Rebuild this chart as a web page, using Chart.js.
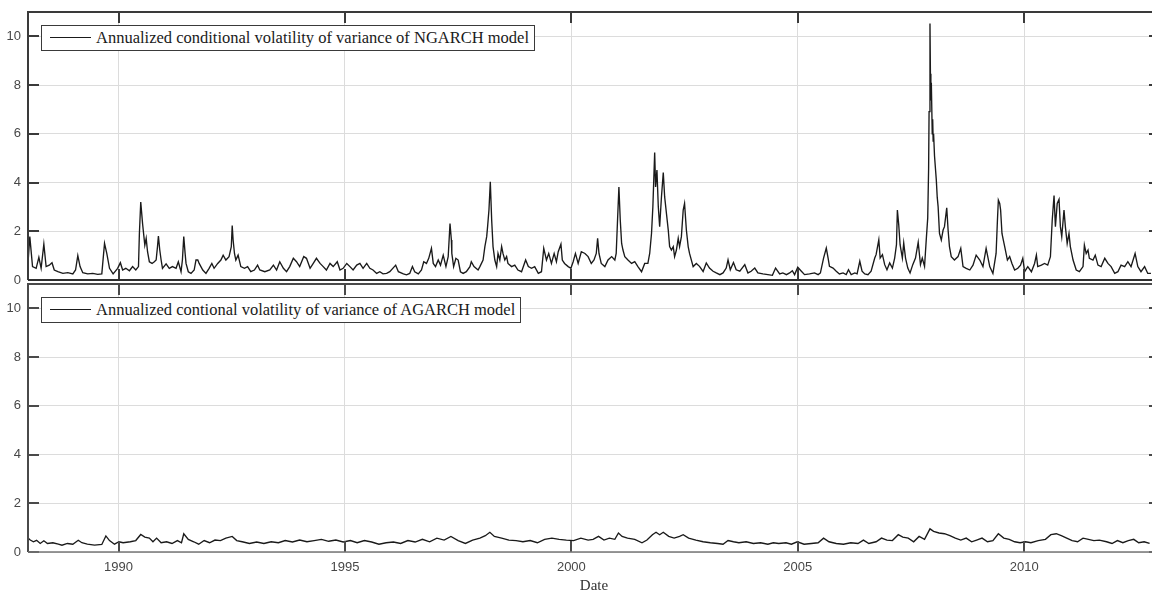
<!DOCTYPE html>
<html>
<head>
<meta charset="utf-8">
<title>Annualized conditional volatility: NGARCH vs AGARCH</title>
<script src="https://cdn.jsdelivr.net/npm/chart.js@4.4.1/dist/chart.umd.min.js"></script>
<style>
  html, body { margin: 0; padding: 0; background: #fff; overflow: hidden; }
  body { width: 1152px; height: 594px; position: relative; }
  canvas { position: absolute; left: 0; }
  #topChart { top: 0; }
  #bottomChart { top: 270px; }
  .legend {
    position: absolute; left: 41px; height: 26px; box-sizing: border-box;
    border: 1px solid #3a3a3a; background: #fff;
    padding: 0 5px 0 54px; line-height: 24px; white-space: nowrap;
    font-family: 'Liberation Serif', 'Times New Roman', serif; font-size: 16.5px; color: #1a1a1a;
  }
  .legend .swatch { position: absolute; left: 8px; top: 11px; width: 41px; height: 1px; background: #1a1a1a; }
</style>
</head>
<body>
<canvas id="topChart" width="1162" height="300"></canvas>
<canvas id="bottomChart" width="1162" height="324"></canvas>
<div class="legend" style="top:25px"><span class="swatch"></span>Annualized conditional volatility of variance of NGARCH model</div>
<div class="legend" style="top:297px"><span class="swatch"></span>Annualized contional volatility of variance of AGARCH model</div>

<script>
// axis ticks
const tickYears = [1990, 1995, 2000, 2005, 2010];
const tickVols = [0, 2, 4, 6, 8, 10];

// NGARCH: annualized conditional volatility
const ngarchYears = [
  1988.00, 1988.04, 1988.10, 1988.18, 1988.24, 1988.29, 1988.35, 1988.40, 1988.47, 1988.53,
  1988.58, 1988.66, 1988.77, 1988.88, 1988.99, 1989.05, 1989.10, 1989.15, 1989.21, 1989.32,
  1989.43, 1989.54, 1989.63, 1989.69, 1989.74, 1989.80, 1989.88, 1989.98, 1990.04, 1990.09,
  1990.16, 1990.24, 1990.31, 1990.38, 1990.44, 1990.46, 1990.49, 1990.53, 1990.56, 1990.58,
  1990.61, 1990.64, 1990.68, 1990.74, 1990.79, 1990.83, 1990.86, 1990.88, 1990.91, 1990.94,
  1990.97, 1991.05, 1991.12, 1991.19, 1991.27, 1991.32, 1991.38, 1991.41, 1991.44, 1991.47,
  1991.49, 1991.54, 1991.60, 1991.67, 1991.71, 1991.75, 1991.78, 1991.86, 1991.93, 1992.00,
  1992.06, 1992.11, 1992.19, 1992.26, 1992.31, 1992.37, 1992.44, 1992.49, 1992.51, 1992.53,
  1992.56, 1992.59, 1992.64, 1992.70, 1992.78, 1992.85, 1992.92, 1993.00, 1993.07, 1993.12,
  1993.23, 1993.34, 1993.42, 1993.49, 1993.56, 1993.64, 1993.71, 1993.78, 1993.86, 1993.93,
  1994.00, 1994.09, 1994.15, 1994.23, 1994.30, 1994.37, 1994.45, 1994.52, 1994.59, 1994.67,
  1994.74, 1994.83, 1994.89, 1994.96, 1995.04, 1995.11, 1995.18, 1995.26, 1995.33, 1995.40,
  1995.48, 1995.55, 1995.62, 1995.70, 1995.77, 1995.84, 1995.92, 1995.99, 1996.12, 1996.18,
  1996.29, 1996.36, 1996.43, 1996.49, 1996.54, 1996.62, 1996.69, 1996.74, 1996.80, 1996.85,
  1996.91, 1996.95, 1997.00, 1997.06, 1997.11, 1997.17, 1997.23, 1997.28, 1997.30, 1997.32,
  1997.35, 1997.36, 1997.40, 1997.45, 1997.50, 1997.55, 1997.61, 1997.68, 1997.76, 1997.79,
  1997.85, 1997.94, 1997.98, 1998.05, 1998.09, 1998.13, 1998.15, 1998.18, 1998.21, 1998.24,
  1998.27, 1998.31, 1998.35, 1998.38, 1998.42, 1998.46, 1998.49, 1998.53, 1998.57, 1998.60,
  1998.68, 1998.75, 1998.82, 1998.90, 1998.99, 1999.05, 1999.12, 1999.19, 1999.27, 1999.34,
  1999.39, 1999.45, 1999.50, 1999.56, 1999.62, 1999.67, 1999.71, 1999.77, 1999.80, 1999.85,
  1999.93, 1999.99, 2000.04, 2000.09, 2000.15, 2000.22, 2000.30, 2000.37, 2000.44, 2000.50,
  2000.55, 2000.58, 2000.61, 2000.66, 2000.74, 2000.81, 2000.89, 2000.96, 2000.99, 2001.02,
  2001.05, 2001.08, 2001.11, 2001.14, 2001.18, 2001.25, 2001.33, 2001.40, 2001.47, 2001.55,
  2001.62, 2001.69, 2001.73, 2001.77, 2001.80, 2001.84, 2001.86, 2001.89, 2001.92, 2001.95,
  2001.99, 2002.03, 2002.06, 2002.10, 2002.14, 2002.17, 2002.21, 2002.25, 2002.28, 2002.32,
  2002.36, 2002.39, 2002.43, 2002.47, 2002.50, 2002.54, 2002.58, 2002.61, 2002.69, 2002.76,
  2002.83, 2002.91, 2002.98, 2003.05, 2003.13, 2003.20, 2003.28, 2003.35, 2003.42, 2003.46,
  2003.51, 2003.58, 2003.64, 2003.72, 2003.83, 2003.90, 2003.97, 2004.05, 2004.12, 2004.23,
  2004.34, 2004.44, 2004.51, 2004.60, 2004.67, 2004.75, 2004.82, 2004.88, 2004.93, 2005.00,
  2005.08, 2005.15, 2005.26, 2005.37, 2005.45, 2005.50, 2005.57, 2005.63, 2005.67, 2005.70,
  2005.78, 2005.85, 2005.92, 2006.00, 2006.07, 2006.12, 2006.18, 2006.26, 2006.31, 2006.37,
  2006.42, 2006.48, 2006.55, 2006.62, 2006.70, 2006.73, 2006.79, 2006.82, 2006.87, 2006.92,
  2006.97, 2007.03, 2007.09, 2007.14, 2007.18, 2007.20, 2007.23, 2007.26, 2007.31, 2007.34,
  2007.38, 2007.43, 2007.48, 2007.54, 2007.60, 2007.66, 2007.71, 2007.75, 2007.80, 2007.84,
  2007.87, 2007.89, 2007.90, 2007.92, 2007.93, 2007.94, 2007.95, 2007.97, 2007.98, 2007.99,
  2008.00, 2008.02, 2008.04, 2008.06, 2008.08, 2008.10, 2008.13, 2008.17, 2008.21, 2008.24,
  2008.29, 2008.32, 2008.35, 2008.39, 2008.46, 2008.54, 2008.60, 2008.65, 2008.72, 2008.80,
  2008.87, 2008.94, 2009.02, 2009.09, 2009.16, 2009.24, 2009.31, 2009.38, 2009.41, 2009.43,
  2009.46, 2009.48, 2009.51, 2009.54, 2009.57, 2009.63, 2009.68, 2009.73, 2009.79, 2009.86,
  2009.92, 2009.97, 2010.01, 2010.08, 2010.16, 2010.23, 2010.27, 2010.30, 2010.38, 2010.45,
  2010.52, 2010.58, 2010.62, 2010.66, 2010.69, 2010.73, 2010.77, 2010.80, 2010.83, 2010.88,
  2010.91, 2010.95, 2010.99, 2011.02, 2011.08, 2011.15, 2011.22, 2011.30, 2011.33, 2011.37,
  2011.41, 2011.44, 2011.52, 2011.57, 2011.63, 2011.70, 2011.78, 2011.85, 2011.92, 2012.00,
  2012.07, 2012.14, 2012.22, 2012.29, 2012.36, 2012.45, 2012.51, 2012.58, 2012.66, 2012.73,
  2012.80
];
const ngarchVol = [
  0.70, 1.78, 0.55, 0.48, 0.93, 0.48, 1.47, 0.55, 0.61, 0.71,
  0.41, 0.34, 0.27, 0.30, 0.25, 0.41, 1.00, 0.55, 0.30, 0.25,
  0.27, 0.23, 0.25, 1.50, 1.09, 0.48, 0.25, 0.48, 0.71, 0.41,
  0.48, 0.38, 0.55, 0.41, 0.55, 1.91, 3.20, 2.32, 1.78, 1.43,
  1.71, 1.16, 0.75, 0.68, 0.75, 0.82, 1.37, 1.80, 1.23, 0.82,
  0.48, 0.66, 0.48, 0.55, 0.48, 0.75, 0.34, 0.82, 1.78, 1.09,
  0.68, 0.34, 0.27, 0.41, 0.82, 0.82, 0.68, 0.41, 0.27, 0.48,
  0.68, 0.48, 0.68, 0.82, 1.02, 0.82, 0.96, 1.37, 2.24, 1.64,
  1.09, 0.82, 1.02, 0.55, 0.48, 0.55, 0.34, 0.41, 0.61, 0.41,
  0.34, 0.41, 0.61, 0.41, 0.75, 0.48, 0.34, 0.55, 0.89, 0.75,
  0.55, 0.96, 0.89, 0.48, 0.68, 0.89, 0.68, 0.55, 0.41, 0.68,
  0.55, 0.75, 0.41, 0.48, 0.68, 0.55, 0.41, 0.61, 0.68, 0.48,
  0.68, 0.48, 0.41, 0.27, 0.34, 0.25, 0.27, 0.34, 0.61, 0.34,
  0.25, 0.21, 0.27, 0.55, 0.34, 0.25, 0.41, 0.75, 0.68, 0.89,
  1.30, 0.68, 0.55, 0.82, 0.61, 1.02, 0.55, 0.96, 1.64, 2.32,
  1.64, 1.09, 0.55, 0.89, 0.82, 0.34, 0.27, 0.34, 0.55, 0.75,
  0.55, 0.41, 0.55, 0.82, 1.37, 1.78, 2.19, 2.87, 4.03, 2.46,
  1.37, 0.82, 0.55, 1.09, 0.82, 1.37, 1.09, 0.82, 0.96, 0.68,
  0.55, 0.61, 0.41, 0.34, 0.82, 0.55, 0.48, 0.55, 0.27, 0.34,
  1.30, 0.82, 1.09, 0.68, 1.09, 0.75, 1.16, 1.47, 0.82, 0.68,
  0.55, 0.48, 0.75, 1.09, 0.68, 1.16, 1.09, 0.96, 0.68, 0.82,
  1.09, 1.71, 1.09, 0.68, 0.55, 0.82, 0.96, 0.82, 1.09, 2.46,
  3.82, 2.46, 1.50, 1.23, 0.96, 0.82, 0.68, 0.75, 0.55, 0.34,
  0.68, 0.68, 1.09, 1.91, 3.01, 5.23, 3.82, 4.51, 3.01, 2.19,
  3.42, 4.41, 3.42, 2.73, 2.05, 1.37, 1.23, 1.37, 0.96, 1.23,
  1.71, 1.37, 1.78, 2.87, 3.14, 2.05, 1.37, 1.09, 0.55, 0.68,
  0.56, 0.35, 0.70, 0.49, 0.36, 0.29, 0.22, 0.29, 0.49, 0.83,
  0.42, 0.72, 0.42, 0.36, 0.63, 0.29, 0.36, 0.49, 0.29, 0.25,
  0.22, 0.19, 0.49, 0.25, 0.29, 0.22, 0.29, 0.38, 0.22, 0.52,
  0.36, 0.22, 0.25, 0.29, 0.22, 0.29, 0.90, 1.31, 0.90, 0.56,
  0.49, 0.36, 0.25, 0.29, 0.22, 0.42, 0.22, 0.29, 0.25, 0.77,
  0.36, 0.25, 0.22, 0.36, 0.90, 1.04, 1.65, 0.90, 1.04, 0.63,
  0.42, 0.70, 0.49, 0.90, 1.45, 2.87, 2.27, 1.45, 0.90, 1.52,
  0.90, 0.49, 0.29, 0.63, 0.90, 1.55, 0.63, 0.90, 0.56, 1.72,
  2.54, 4.59, 6.91, 10.53, 8.47, 7.37, 8.10, 6.00, 6.60, 5.70,
  6.00, 5.10, 4.60, 4.10, 3.40, 3.00, 1.91, 1.64, 2.05, 2.19,
  2.96, 2.05, 1.37, 0.96, 0.82, 0.96, 1.30, 0.55, 0.48, 0.41,
  0.61, 1.02, 0.82, 0.55, 1.30, 0.55, 0.27, 1.09, 2.46, 3.28,
  3.14, 2.87, 1.91, 1.64, 1.37, 0.82, 0.96, 0.68, 0.41, 0.48,
  0.61, 0.89, 0.34, 0.55, 0.34, 0.68, 1.02, 0.55, 0.61, 0.68,
  0.61, 0.96, 2.46, 3.47, 2.19, 3.14, 3.31, 2.19, 1.78, 2.87,
  2.19, 1.50, 1.91, 1.37, 0.82, 0.41, 0.34, 0.55, 1.43, 1.09,
  1.23, 0.89, 0.82, 1.02, 0.61, 0.55, 0.89, 0.68, 0.55, 0.27,
  0.34, 0.61, 0.55, 0.75, 0.55, 1.09, 0.55, 0.34, 0.55, 0.27,
  0.27
];

// AGARCH: annualized conditional volatility
const agarchYears = [
  1988.00, 1988.05, 1988.12, 1988.19, 1988.27, 1988.35, 1988.43, 1988.55, 1988.67, 1988.75,
  1988.87, 1988.99, 1989.11, 1989.19, 1989.31, 1989.47, 1989.63, 1989.72, 1989.80, 1989.91,
  1990.01, 1990.10, 1990.26, 1990.38, 1990.49, 1990.58, 1990.68, 1990.76, 1990.84, 1990.94,
  1991.06, 1991.18, 1991.30, 1991.39, 1991.44, 1991.54, 1991.66, 1991.77, 1991.89, 1992.01,
  1992.13, 1992.25, 1992.37, 1992.51, 1992.61, 1992.73, 1992.89, 1993.05, 1993.21, 1993.37,
  1993.53, 1993.68, 1993.84, 1994.00, 1994.16, 1994.32, 1994.48, 1994.64, 1994.80, 1994.96,
  1995.12, 1995.27, 1995.43, 1995.59, 1995.75, 1995.91, 1996.07, 1996.23, 1996.39, 1996.55,
  1996.71, 1996.87, 1997.03, 1997.19, 1997.34, 1997.50, 1997.66, 1997.82, 1997.98, 1998.10,
  1998.20, 1998.30, 1998.46, 1998.62, 1998.78, 1998.93, 1999.09, 1999.25, 1999.41, 1999.57,
  1999.73, 1999.89, 2000.05, 2000.21, 2000.37, 2000.48, 2000.60, 2000.72, 2000.84, 2000.96,
  2001.04, 2001.12, 2001.24, 2001.40, 2001.56, 2001.67, 2001.79, 2001.87, 2001.95, 2002.03,
  2002.15, 2002.27, 2002.39, 2002.47, 2002.59, 2002.75, 2002.91, 2003.07, 2003.23, 2003.35,
  2003.46, 2003.58, 2003.70, 2003.86, 2004.02, 2004.18, 2004.34, 2004.46, 2004.58, 2004.74,
  2004.86, 2004.99, 2005.14, 2005.30, 2005.45, 2005.57, 2005.69, 2005.85, 2006.01, 2006.17,
  2006.33, 2006.45, 2006.57, 2006.73, 2006.85, 2006.97, 2007.09, 2007.22, 2007.32, 2007.44,
  2007.56, 2007.68, 2007.80, 2007.92, 2008.00, 2008.12, 2008.24, 2008.36, 2008.48, 2008.60,
  2008.72, 2008.84, 2008.95, 2009.07, 2009.19, 2009.31, 2009.43, 2009.55, 2009.67, 2009.79,
  2009.91, 2010.03, 2010.15, 2010.31, 2010.47, 2010.59, 2010.71, 2010.82, 2010.94, 2011.06,
  2011.18, 2011.30, 2011.42, 2011.54, 2011.66, 2011.82, 2011.94, 2012.06, 2012.18, 2012.30,
  2012.42, 2012.53, 2012.65, 2012.77
];
const agarchVol = [
  0.57, 0.49, 0.42, 0.48, 0.35, 0.46, 0.35, 0.38, 0.32, 0.28,
  0.35, 0.32, 0.48, 0.38, 0.32, 0.28, 0.31, 0.66, 0.47, 0.32,
  0.42, 0.38, 0.42, 0.47, 0.72, 0.61, 0.57, 0.42, 0.57, 0.38,
  0.42, 0.35, 0.47, 0.38, 0.75, 0.52, 0.42, 0.32, 0.47, 0.38,
  0.49, 0.47, 0.57, 0.64, 0.47, 0.42, 0.35, 0.41, 0.35, 0.42,
  0.38, 0.47, 0.41, 0.49, 0.42, 0.47, 0.52, 0.44, 0.49, 0.41,
  0.47, 0.38, 0.47, 0.41, 0.32, 0.38, 0.41, 0.35, 0.47, 0.41,
  0.52, 0.42, 0.57, 0.49, 0.64, 0.47, 0.35, 0.49, 0.57, 0.67,
  0.81, 0.64, 0.57, 0.49, 0.47, 0.42, 0.47, 0.38, 0.52, 0.57,
  0.52, 0.49, 0.47, 0.57, 0.49, 0.52, 0.64, 0.49, 0.57, 0.52,
  0.78, 0.64, 0.57, 0.52, 0.38, 0.49, 0.71, 0.81, 0.71, 0.81,
  0.64, 0.57, 0.64, 0.71, 0.57, 0.49, 0.42, 0.38, 0.35, 0.32,
  0.47, 0.42, 0.38, 0.42, 0.35, 0.38, 0.32, 0.38, 0.35, 0.38,
  0.32, 0.42, 0.32, 0.35, 0.38, 0.57, 0.42, 0.35, 0.32, 0.38,
  0.35, 0.49, 0.35, 0.42, 0.57, 0.49, 0.47, 0.71, 0.61, 0.57,
  0.42, 0.64, 0.52, 0.95, 0.85, 0.78, 0.75, 0.67, 0.57, 0.49,
  0.57, 0.42, 0.49, 0.57, 0.42, 0.47, 0.75, 0.57, 0.52, 0.42,
  0.38, 0.42, 0.38, 0.47, 0.52, 0.71, 0.75, 0.67, 0.57, 0.47,
  0.42, 0.57, 0.52, 0.47, 0.49, 0.42, 0.35, 0.47, 0.38, 0.47,
  0.52, 0.38, 0.42, 0.35
];

// frame box with inward tick marks, drawn over the data like the original
const framePlugin = {
  id: 'frame',
  afterDraw(chart, args, opts) {
    const { ctx, chartArea: a, scales } = chart;
    const len = 11;
    ctx.save();
    ctx.strokeStyle = opts.color;
    ctx.lineWidth = 2;
    ctx.beginPath();
    scales.x.ticks.forEach(t => {
      const px = Math.round(scales.x.getPixelForValue(t.value));
      ctx.moveTo(px, a.top); ctx.lineTo(px, a.top + len);
      ctx.moveTo(px, a.bottom); ctx.lineTo(px, a.bottom - len);
    });
    scales.y.ticks.forEach(t => {
      const py = Math.round(scales.y.getPixelForValue(t.value));
      ctx.moveTo(a.left, py); ctx.lineTo(a.left + len, py);
      ctx.moveTo(a.right, py); ctx.lineTo(a.right - len, py);
    });
    ctx.moveTo(a.left, a.bottom); ctx.lineTo(a.left, a.top); ctx.lineTo(a.right, a.top); ctx.lineTo(a.right, a.bottom);
    ctx.stroke();
    ctx.strokeStyle = opts.bottomColor;
    ctx.lineWidth = opts.bottomWidth;
    ctx.beginPath();
    ctx.moveTo(a.left, a.bottom); ctx.lineTo(a.right, a.bottom);
    ctx.stroke();
    ctx.restore();
  }
};

const tickFont = { family: "'Liberation Sans', Arial, sans-serif", size: 13 };

function buildChart(id, years, vols, cfg) {
  const points = years.map((yr, i) => ({ x: yr, y: vols[i] }));
  return new Chart(document.getElementById(id), {
    type: 'line',
    data: {
      datasets: [{
        data: points,
        borderColor: '#1a1a1a',
        borderWidth: 1.35,
        pointRadius: 0,
        tension: 0
      }]
    },
    options: {
      responsive: false,
      animation: false,
      devicePixelRatio: 1,
      layout: { padding: cfg.padding },
      plugins: {
        legend: { display: false },
        tooltip: { enabled: false },
        frame: cfg.frame
      },
      scales: {
        x: {
          type: 'linear',
          min: 1988,
          max: 2013,
          afterBuildTicks: s => { s.ticks = tickYears.map(v => ({ value: v })); },
          afterFit: s => { s.height = cfg.xHeight; s.paddingLeft = 0; s.paddingRight = 0; },
          border: { display: false },
          grid: { color: '#dcdcdc', lineWidth: 1, drawTicks: false },
          ticks: {
            display: cfg.showX,
            padding: 8,
            color: '#474747',
            font: tickFont,
            maxRotation: 0,
            autoSkip: false,
            callback: v => String(v)
          },
          title: {
            display: cfg.showX,
            text: 'Date',
            color: '#333',
            font: { family: "'Liberation Serif', 'Times New Roman', serif", size: 15, lineHeight: 1 },
            padding: { top: 0, bottom: 0 }
          }
        },
        y: {
          min: 0,
          max: 11,
          afterBuildTicks: s => { s.ticks = tickVols.map(v => ({ value: v })); },
          afterFit: s => { s.width = 28; s.paddingTop = 0; s.paddingBottom = 0; },
          border: { display: false },
          grid: { color: '#dcdcdc', lineWidth: 1, drawTicks: false },
          ticks: {
            padding: 7,
            color: '#474747',
            font: tickFont,
            callback: v => String(v)
          }
        }
      }
    },
    plugins: [framePlugin]
  });
}

buildChart('topChart', ngarchYears, ngarchVol, {
  padding: { top: 12, bottom: 20, left: 0, right: 2 },
  xHeight: 0,
  showX: false,
  frame: { color: '#3a3a3a', bottomColor: '#2e2e2e', bottomWidth: 2 }
});

buildChart('bottomChart', agarchYears, agarchVol, {
  padding: { top: 14, bottom: 0, left: 0, right: 2 },
  xHeight: 42,
  showX: true,
  frame: { color: '#4a4a4a', bottomColor: '#777', bottomWidth: 1.5 }
});
</script>
</body>
</html>
